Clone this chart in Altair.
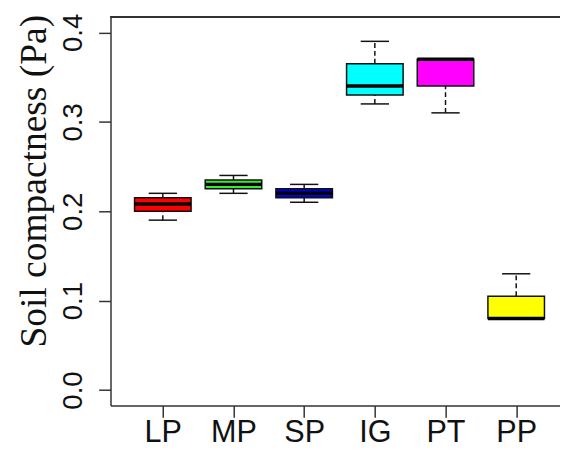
import json
import altair as alt
import pandas as pd

# ---- data ----
categories = ["LP", "MP", "SP", "IG", "PT", "PP"]
mins    = [0.19, 0.22, 0.21, 0.32, 0.31, 0.08]
q1s     = [0.20, 0.225, 0.215, 0.33, 0.34, 0.08]
medians = [0.208, 0.23, 0.22, 0.34, 0.37, 0.08]
q3s     = [0.215, 0.235, 0.225, 0.365, 0.37, 0.105]
maxs    = [0.22, 0.24, 0.23, 0.39, 0.37, 0.13]
colors  = ["#ff0000", "#33ee33", "#0000dd", "#00ffff", "#ff00ff", "#ffff00"]
y_ticks = [0.0, 0.1, 0.2, 0.3, 0.4]

pos = list(range(1, len(categories) + 1))
df = pd.DataFrame({
    "cat": categories, "pos": pos,
    "min": mins, "q1": q1s, "median": medians, "q3": q3s, "max": maxs,
})
df["x0"] = df["pos"] - 0.4
df["x1"] = df["pos"] + 0.4
df["c0"] = df["pos"] - 0.2
df["c1"] = df["pos"] + 0.2

W, H = 456, 394
xscale = alt.Scale(domain=[0.26, 0.26 + W / 71.7], nice=False, zero=False)
yscale = alt.Scale(domain=[-0.0173, 0.4171], nice=False, zero=False)

label_expr = json.dumps(categories) + "[datum.value - 1]"
xaxis = alt.Axis(values=pos, labelExpr=label_expr, title=None, grid=False,
                 tickSize=12, tickWidth=1.5, tickColor="#333",
                 domainColor="#333", domainWidth=1.5,
                 labelFont="Liberation Sans", labelFontSize=31, labelColor="#111",
                 labelBaseline="alphabetic", labelPadding=25, labelFlush=False)
yaxis = alt.Axis(values=y_ticks, format=".1f", grid=False,
                 tickSize=12, tickWidth=1.5, tickColor="#333",
                 domainColor="#333", domainWidth=1.5,
                 labelFont="Liberation Sans", labelFontSize=28, labelColor="#111",
                 labelAngle=270, labelAlign="center", labelBaseline="alphabetic",
                 labelPadding=17, labelFlush=False,
                 title="Soil compactness (Pa)", titleFont="Liberation Serif",
                 titleFontSize=38, titleFontWeight="normal", titleColor="#111",
                 titleAngle=270, titleAlign="center", titleBaseline="alphabetic",
                 titleX=-66, titleY=166)

def X(f):
    return alt.X(f"{f}:Q", scale=xscale, axis=xaxis)

def Y(f):
    return alt.Y(f"{f}:Q", scale=yscale, axis=yaxis)

base = alt.Chart(df)

upper = base.mark_rule(color="#111", strokeWidth=1.5, strokeDash=[5, 3]).encode(
    x=X("pos"), y=Y("q3"), y2="max:Q")
lower = base.mark_rule(color="#111", strokeWidth=1.5, strokeDash=[5, 3]).encode(
    x=X("pos"), y=Y("min"), y2="q1:Q")
cap_hi = base.mark_rule(color="#111", strokeWidth=1.5).encode(
    x=X("c0"), x2="c1:Q", y=Y("max"))
cap_lo = base.mark_rule(color="#111", strokeWidth=1.5).encode(
    x=X("c0"), x2="c1:Q", y=Y("min"))
boxes = base.mark_rect(stroke="#111", strokeWidth=1.5).encode(
    x=X("x0"), x2="x1:Q", y=Y("q1"), y2="q3:Q",
    color=alt.Color("cat:N", scale=alt.Scale(domain=categories, range=colors), legend=None))
med = base.mark_rule(color="#000", strokeWidth=3.5).encode(
    x=X("x0"), x2="x1:Q", y=Y("median"))
top = alt.Chart(df).mark_rule(color="#333", strokeWidth=1.5).encode(
    x=alt.value(0), x2=alt.value(W), y=alt.value(0))

chart = alt.layer(upper, lower, cap_hi, cap_lo, boxes, med, top).properties(
    width=W, height=H,
    autosize=alt.AutoSizeParams(type="none"),
    padding={"left": 104, "top": 6, "right": 0, "bottom": 48},
    background="white",
).configure_view(strokeWidth=0)

chart.save("out.html", embed_options={"renderer": "svg", "actions": False})
